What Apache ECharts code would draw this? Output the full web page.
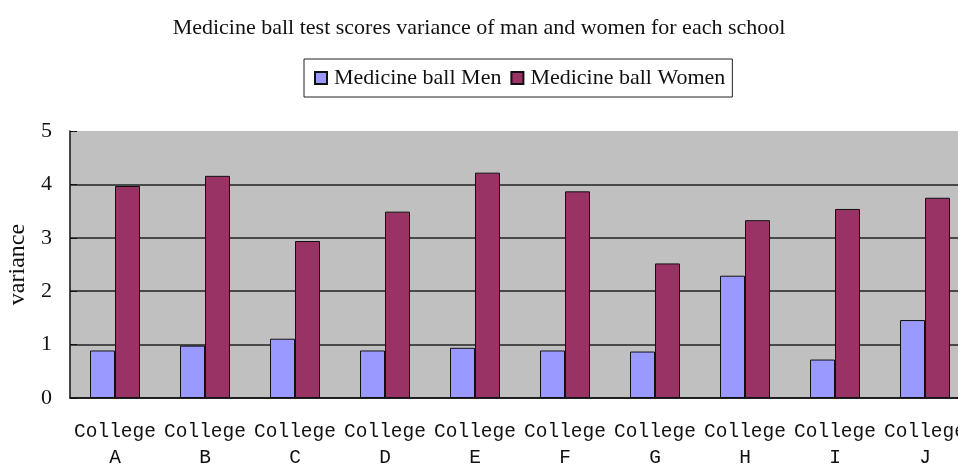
<!DOCTYPE html>
<html><head><meta charset="utf-8">
<script src="https://cdn.jsdelivr.net/npm/echarts@6/dist/echarts.min.js"></script>
<style>html,body{margin:0;padding:0;background:#fff}#c{width:958px;height:466px}</style>
</head><body><div id="c"></div>
<script>
const categories = ['College\nA','College\nB','College\nC','College\nD','College\nE','College\nF','College\nG','College\nH','College\nI','College\nJ'];
const menValues = [0.89, 0.98, 1.11, 0.89, 0.94, 0.89, 0.87, 2.29, 0.72, 1.46];
const womenValues = [3.97, 4.16, 2.94, 3.49, 4.22, 3.87, 2.52, 3.33, 3.54, 3.75];
const yTicks = [0, 1, 2, 3, 4, 5];

const chart = echarts.init(document.getElementById('c'), null, {renderer:'canvas'});
const serif = '"Liberation Serif", "Times New Roman", serif';
chart.setOption({
  animation: false,
  backgroundColor: '#fff',
  title: {
    text: 'Medicine ball test scores variance of man and women for each school',
    left: 'center', top: 12,
    textStyle: {fontFamily: serif, fontSize: 22, fontWeight: 'normal', color: '#111'}
  },
  legend: {
    data: ['Medicine ball Men','Medicine ball Women'],
    left: 304, top: 59,
    padding: [8, 7, 8, 10],
    itemGap: 9,
    itemWidth: 12, itemHeight: 12,
    icon: 'rect',
    borderColor: '#222', borderWidth: 1,
    textStyle: {fontFamily: serif, fontSize: 22, color: '#111', padding: [0,0,0,2]}
  },
  grid: {
    left: 70, top: 131, width: 900, bottom: 68,
    outerBoundsMode: 'none', containLabel: false,
    show: true, backgroundColor: '#c0c0c0', borderWidth: 0
  },
  xAxis: {
    type: 'category', data: categories,
    axisLine: {lineStyle: {color: '#111', width: 1.5}},
    axisTick: {inside: true, length: 7, lineStyle: {color: '#111'}},
    axisLabel: {fontFamily: '"Liberation Mono", monospace', fontSize: 19.5, color: '#111', lineHeight: 26, margin: 21, interval: 0}
  },
  yAxis: {
    type: 'value', min: 0, max: 5, interval: 1,
    name: 'variance', nameLocation: 'middle', nameGap: 40,
    nameTextStyle: {fontFamily: serif, fontSize: 24, color: '#111'},
    axisLine: {show: true, lineStyle: {color: '#111', width: 1.5}},
    axisTick: {show: true, inside: true, length: 7, lineStyle: {color: '#111'}},
    axisLabel: {fontFamily: serif, fontSize: 22, color: '#111', margin: 18,
      formatter: v => yTicks.includes(v) ? String(v) : ''},
    splitLine: {show: true, showMaxLine: false, lineStyle: {color: '#222', width: 1.5}}
  },
  series: [
    {name: 'Medicine ball Men', type: 'bar', data: menValues, barWidth: 25, barGap: '0%',
     itemStyle: {color: '#9999ff', borderColor: '#111', borderWidth: 1}},
    {name: 'Medicine ball Women', type: 'bar', data: womenValues, barWidth: 25,
     itemStyle: {color: '#993366', borderColor: '#111', borderWidth: 1}}
  ]
});
</script></body></html>
